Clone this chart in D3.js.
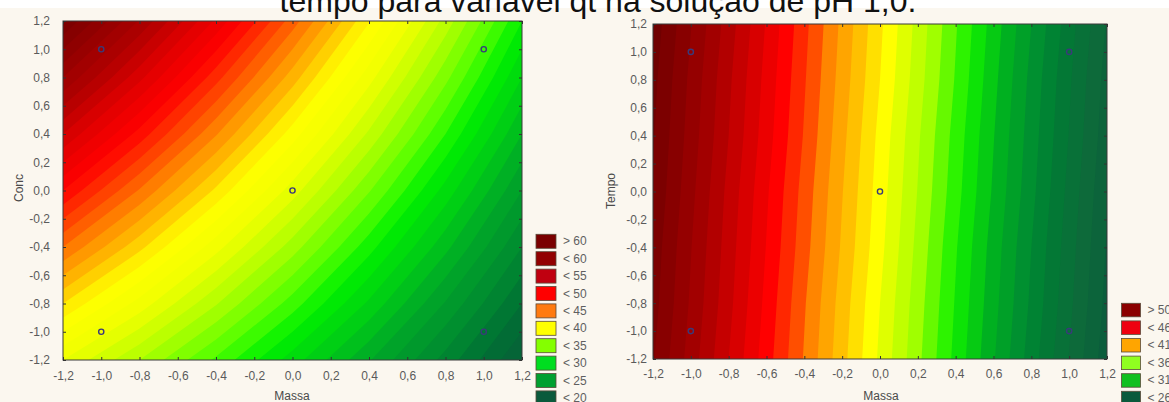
<!DOCTYPE html>
<html>
<head>
<meta charset="utf-8">
<script src="https://cdn.jsdelivr.net/npm/d3@7"></script>
<style>
  body { margin: 0; background: #fff; }
  svg { display: block; font-family: Arial, "Liberation Sans", sans-serif; }
</style>
</head>
<body>
<div id="chart"></div>
<script>
// surface values, on a 7x7 grid (rows from top: y = 1.2 ... -1.2)
const gridAxis = [-1.2, -0.8, -0.4, 0, 0.4, 0.8, 1.2];

const concGrid = [
  [62.0, 56.9, 51.8, 46.5, 41.1, 35.6, 30.0],
  [58.0, 53.3, 48.4, 43.5, 38.4, 33.3, 28.0],
  [54.0, 49.6, 45.1, 40.5, 35.8, 31.0, 26.0],
  [50.0, 45.9, 41.8, 37.5, 33.1, 28.6, 24.0],
  [46.0, 42.3, 38.4, 34.5, 30.4, 26.3, 22.0],
  [42.0, 38.6, 35.1, 31.5, 27.8, 23.9, 20.0],
  [38.0, 35.0, 31.8, 28.5, 25.1, 21.6, 18.0]
];

const tempoGrid = [
  [52.6, 47.5, 42.3, 37.2, 32.1, 27.0, 21.9],
  [52.3, 47.2, 42.1, 37.0, 31.9, 26.7, 21.6],
  [52.1, 47.0, 41.9, 36.7, 31.6, 26.5, 21.4],
  [51.9, 46.7, 41.6, 36.5, 31.4, 26.3, 21.1],
  [51.6, 46.5, 41.4, 36.3, 31.1, 26.0, 20.9],
  [51.4, 46.3, 41.1, 36.0, 30.9, 25.8, 20.7],
  [51.1, 46.0, 40.9, 35.8, 30.7, 25.5, 20.4]
];

const designPoints = [[-1, 1], [1, 1], [0, 0], [-1, -1], [1, -1]];

const axisTicks = [-1.2, -1.0, -0.8, -0.6, -0.4, -0.2, 0, 0.2, 0.4, 0.6, 0.8, 1.0, 1.2];

const concLegend = ["> 60", "< 60", "< 55", "< 50", "< 45", "< 40", "< 35", "< 30", "< 25", "< 20"];
const tempoLegend = ["> 50", "< 46", "< 41", "< 36", "< 31", "< 26"];

const titleText = "tempo para variável qt na solução de pH 1,0.";

// styles
const concSwatch = ["#7a0000", "#920000", "#c00010", "#ff0000", "#ff7a10", "#ffff00", "#84ff00", "#00dd20", "#00a030", "#0a5a3c"];
const tempoSwatch = ["#8b0000", "#ee0010", "#ffa500", "#90ff20", "#10c020", "#0a5a3c"];

const concColor = d3.scaleLinear()
  .domain([17, 20, 22, 25, 27, 30, 32, 35, 38, 41, 43, 45, 47, 50, 53, 56, 60, 64])
  .range(["#0a5a3a", "#007034", "#008a30", "#00a828", "#00c818", "#00f000", "#50ff00", "#b0ff00",
          "#f0ff00", "#ffff00", "#ffc000", "#ff8c00", "#ff5000", "#ff0000", "#e00000", "#b00000",
          "#8a0000", "#6a0000"])
  .clamp(true);

const tempoColor = d3.scaleLinear()
  .domain([20, 22.5, 25, 26.5, 28.5, 31, 33.5, 36.5, 38.5, 40.3, 41.6, 43.5, 45.5, 48, 50.5, 52.5])
  .range(["#0a5a3c", "#0d6a3a", "#007c34", "#009030", "#00b020", "#10f000", "#a0ff00", "#ffff00",
          "#ffc000", "#ff9000", "#ff4a00", "#ff0000", "#d80000", "#a80000", "#880000", "#700000"])
  .clamp(true);

const W = 1169, H = 402;

const svg = d3.select("#chart").append("svg")
  .attr("width", W)
  .attr("height", H);

svg.append("rect").attr("width", W).attr("height", H).attr("fill", "#fff");
svg.append("rect").attr("y", 8).attr("width", W).attr("height", H - 8).attr("fill", "#fbf7ef");

function fmt(d) {
  return d3.format(".1f")(d).replace(".", ",").replace("\u2212", "-");
}

function drawPanel(cfg) {
  let g = svg.append("g");

  let x = d3.scaleLinear().domain([-1.2, 1.2]).range([cfg.x0, cfg.x1]);
  let y = d3.scaleLinear().domain([-1.2, 1.2]).range([cfg.y1, cfg.y0]);

  // grid cell centres sit at i + 0.5 in d3.contours coordinates
  let n = gridAxis.length;
  let colX = d3.scaleLinear().domain([0.5, n - 0.5]).range([gridAxis[0], gridAxis[n - 1]]);
  let rowY = d3.scaleLinear().domain([0.5, n - 0.5]).range([gridAxis[n - 1], gridAxis[0]]);
  let proj = d3.geoTransform({
    point: function (c, r) {
      this.stream.point(x(colX(c)), y(rowY(r)));
    }
  });
  let path = d3.geoPath(proj);

  let contours = d3.contours()
    .size([n, n])
    .thresholds(d3.range(10, 70, 1))(cfg.grid.flat());

  g.append("clipPath").attr("id", cfg.id)
    .append("rect")
    .attr("x", cfg.x0).attr("y", cfg.y0)
    .attr("width", cfg.x1 - cfg.x0).attr("height", cfg.y1 - cfg.y0);

  g.append("g").attr("clip-path", "url(#" + cfg.id + ")")
    .selectAll("path")
    .data(contours)
    .join("path")
    .attr("d", path)
    .attr("fill", d => cfg.color(d.value + 0.5));

  // design points
  g.append("g").selectAll("circle")
    .data(designPoints)
    .join("circle")
    .attr("cx", d => x(d[0]))
    .attr("cy", d => y(d[1]))
    .attr("r", 2.6)
    .attr("fill", "none")
    .attr("stroke", "#3a3a7a")
    .attr("stroke-width", 1.4);

  g.append("rect")
    .attr("x", cfg.x0).attr("y", cfg.y0)
    .attr("width", cfg.x1 - cfg.x0).attr("height", cfg.y1 - cfg.y0)
    .attr("fill", "none")
    .attr("stroke", "#3b3b3b");

  function styleAxis(a) {
    a.select(".domain").remove();
    a.attr("font-size", 12).attr("font-family", "Arial, 'Liberation Sans', sans-serif");
    a.selectAll("line").attr("stroke", "#333");
    a.selectAll("text").attr("fill", "#5a5a5a");
  }

  g.append("g")
    .attr("transform", "translate(0," + cfg.y1 + ")")
    .call(d3.axisBottom(x).tickValues(axisTicks).tickSizeInner(-3).tickSizeOuter(0)
      .tickPadding(cfg.xPad).tickFormat(fmt))
    .call(styleAxis);

  g.append("g")
    .attr("transform", "translate(" + cfg.x0 + ",0)")
    .call(d3.axisLeft(y).tickValues(axisTicks).tickSizeInner(-3).tickSizeOuter(0)
      .tickPadding(cfg.yPad).tickFormat(fmt))
    .call(styleAxis);

  g.append("g")
    .attr("transform", "translate(0," + cfg.y0 + ")")
    .call(d3.axisTop(x).tickValues(axisTicks).tickSizeInner(-3).tickSizeOuter(0).tickFormat(""))
    .call(styleAxis);

  g.append("g")
    .attr("transform", "translate(" + cfg.x1 + ",0)")
    .call(d3.axisRight(y).tickValues(axisTicks).tickSizeInner(-3).tickSizeOuter(0).tickFormat(""))
    .call(styleAxis);

  // axis titles
  g.append("text")
    .attr("x", cfg.xTitle[0]).attr("y", cfg.xTitle[1])
    .attr("text-anchor", "middle")
    .attr("font-size", 12)
    .attr("fill", "#4a4a4a")
    .text("Massa");

  g.append("text")
    .attr("transform", "translate(" + cfg.yTitle[0] + "," + cfg.yTitle[1] + ") rotate(-90)")
    .attr("text-anchor", "middle")
    .attr("font-size", 12)
    .attr("fill", "#4a4a4a")
    .text(cfg.yLabel);

  // legend
  let lg = g.append("g");
  lg.selectAll("rect")
    .data(cfg.legend)
    .join("rect")
    .attr("x", cfg.lx)
    .attr("y", (d, i) => cfg.ly + i * cfg.lStep)
    .attr("width", cfg.lw)
    .attr("height", cfg.lh)
    .attr("fill", (d, i) => cfg.swatch[i])
    .attr("stroke", "#5a4a3a")
    .attr("stroke-width", 0.8);

  lg.selectAll("text")
    .data(cfg.legend)
    .join("text")
    .attr("x", cfg.lx + cfg.lw + 7)
    .attr("y", (d, i) => cfg.ly + i * cfg.lStep + cfg.lh / 2 + 4)
    .attr("font-size", 12)
    .attr("fill", "#5f5f5f")
    .text(d => d);
}

drawPanel({
  id: "clip-conc",
  grid: concGrid,
  color: concColor,
  x0: 63, x1: 522, y0: 21, y1: 360,
  xPad: 11, yPad: 13,
  xTitle: [292, 400],
  yTitle: [23, 188],
  yLabel: "Conc",
  legend: concLegend,
  swatch: concSwatch,
  lx: 536, ly: 234.3, lStep: 17.4, lw: 20, lh: 14
});

drawPanel({
  id: "clip-tempo",
  grid: tempoGrid,
  color: tempoColor,
  x0: 653, x1: 1107, y0: 24, y1: 359,
  xPad: 10, yPad: 6,
  xTitle: [881, 400],
  yTitle: [615, 191],
  yLabel: "Tempo",
  legend: tempoLegend,
  swatch: tempoSwatch,
  lx: 1121.5, ly: 303.3, lStep: 17.6, lw: 19, lh: 13.5
});

svg.append("text")
  .attr("x", 598)
  .attr("y", 12)
  .attr("text-anchor", "middle")
  .attr("font-size", 32)
  .attr("fill", "#111")
  .text(titleText);
</script>
</body>
</html>
